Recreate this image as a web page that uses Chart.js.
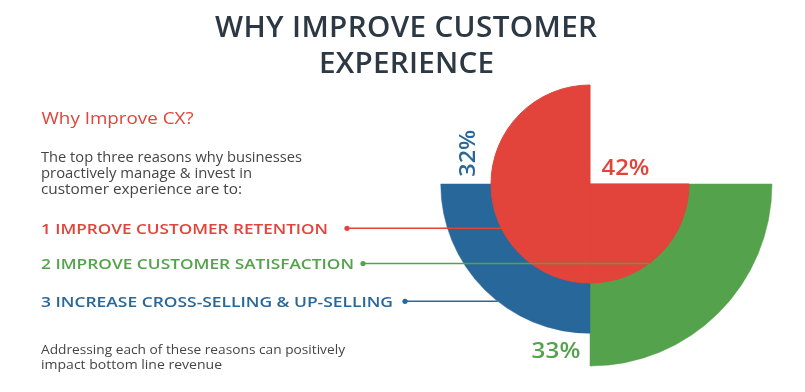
<!DOCTYPE html>
<html><head><meta charset="utf-8">
<script src="https://cdn.jsdelivr.net/npm/chart.js@4/dist/chart.umd.min.js"></script>
<style>html,body{margin:0;padding:0;background:#fff;overflow:hidden}#wrap{position:relative;width:805px;height:392px}canvas{display:block}</style>
</head><body><div id="wrap"><canvas id="c" width="805" height="392"></canvas></div>
<script>
// ---- data ----
const reasons = ['1 IMPROVE CUSTOMER RETENTION', '2 IMPROVE CUSTOMER SATISFACTION', '3 INCREASE CROSS-SELLING & UP-SELLING'];
const percentages = [42, 33, 32];               // retention, satisfaction, cross/up-selling
const quadrants = ['top-right', 'bottom-right', 'bottom-left', 'top-left'];
const retentionExtent = [0, 54.4, 54.4, 54.4];  // red wedge extent per quadrant (r scale 0-100)
const otherExtent = [0, 100, 82, 0];            // green (satisfaction) & blue (selling) wedges
const titleLines = ['WHY IMPROVE CUSTOMER', 'EXPERIENCE'];
const introLines = ['The top three reasons why businesses', 'proactively manage & invest in', 'customer experience are to:'];
const footerLines = ['Addressing each of these reasons can positively', 'impact bottom line revenue'];

const RED = '#e2433a', GREEN = '#54a24c', BLUE = '#28679a', DARK = '#2c3843', GRAY = '#454545';
const FONT = '"Open Sans", "Noto Sans", sans-serif';

function txt(ctx, str, x, y, target, font, color, align, maxScale) {
  ctx.save();
  ctx.font = font; ctx.fillStyle = color; ctx.textBaseline = 'alphabetic'; ctx.textAlign = 'left';
  const w = ctx.measureText(str).width;
  const n = str.length;
  const sx = Math.min(target / w, maxScale || 1.18);
  const rest = target - w * sx;
  const sp = n > 1 ? rest / (n - 1) / sx : 0;
  const left = align === 'center' ? x - target / 2 : x;
  ctx.translate(left, y);
  ctx.scale(sx, 1);
  if ('letterSpacing' in ctx) {
    ctx.letterSpacing = sp + 'px';
    ctx.fillText(str, 0, 0);
  } else {
    for (let i = 0; i < n; i++) ctx.fillText(str[i], ctx.measureText(str.slice(0, i)).width + i * sp, 0);
  }
  ctx.restore();
}

const decor = {
  id: 'decor',
  afterDatasetsDraw(chart) {
    const ctx = chart.ctx;
    const red = chart.getDatasetMeta(0).data[2];
    const blue = chart.getDatasetMeta(1).data[2];
    const cx = red.x, cy = red.y, rR = red.outerRadius, rB = blue.outerRadius;
    const lines = [
      {y: 228.3, x0: 347, color: RED, end: (dy) => cx - Math.sqrt(Math.max(rR * rR - dy * dy, 0))},
      {y: 263.5, x0: 363, color: GREEN, end: (dy) => cx + Math.sqrt(Math.max(rR * rR - dy * dy, 0))},
      {y: 301.3, x0: 405, color: BLUE, end: (dy) => cx - Math.sqrt(Math.max(rB * rB - dy * dy, 0))}
    ];
    ctx.save();
    lines.forEach(l => {
      ctx.strokeStyle = l.color; ctx.fillStyle = l.color; ctx.lineWidth = 1.5;
      ctx.beginPath(); ctx.moveTo(l.x0, l.y); ctx.lineTo(l.end(l.y - cy), l.y); ctx.stroke();
      ctx.beginPath(); ctx.arc(l.x0, l.y, 2.6, 0, Math.PI * 2); ctx.fill();
    });
    ctx.restore();
  },
  afterDraw(chart) {
    const ctx = chart.ctx;
    txt(ctx, titleLines[0], 406, 36.7, 382, '600 28px ' + FONT, DARK, 'center', 1.06);
    txt(ctx, titleLines[1], 406.5, 73.3, 175, '600 28px ' + FONT, DARK, 'center', 1.06);
    txt(ctx, 'Why Improve CX?', 41.5, 124, 152, '400 16px ' + FONT, RED, 'left', 1.2);
    const introW = [261, 211, 201];
    introLines.forEach((s, i) => txt(ctx, s, 41, 161.5 + i * 16, introW[i], '400 14px ' + FONT, GRAY, 'left', 1.15));
    const reasonW = [287, 313, 352], reasonY = [234, 269.3, 307.3], reasonC = [RED, GREEN, BLUE];
    reasons.forEach((s, i) => txt(ctx, s, 41, reasonY[i], reasonW[i], '600 15px ' + FONT, reasonC[i], 'left', 1.18));
    const footW = [304, 181];
    footerLines.forEach((s, i) => txt(ctx, s, 41, 354.3 + i * 15, footW[i], '400 13px ' + FONT, GRAY, 'left', 1.15));
    txt(ctx, percentages[0] + '%', 601.5, 175, 48, '600 22px ' + FONT, RED, 'left', 1.1);
    txt(ctx, percentages[1] + '%', 531.5, 357.7, 49, '600 22px ' + FONT, GREEN, 'left', 1.1);
    ctx.save();
    ctx.translate(475, 176.7); ctx.rotate(-Math.PI / 2);
    txt(ctx, percentages[2] + '%', 0, 0, 47, '600 22px ' + FONT, BLUE, 'left', 1.1);
    ctx.restore();
  }
};

new Chart(document.getElementById('c'), {
  type: 'polarArea',
  data: {
    labels: quadrants,
    datasets: [
      {label: 'Retention', data: retentionExtent, backgroundColor: RED, borderColor: RED, borderWidth: [0, 1, 1, 1]},
      {label: 'Satisfaction / Selling', data: otherExtent, backgroundColor: ['#fff', GREEN, BLUE, '#fff'], borderColor: ['#fff', GREEN, BLUE, '#fff'], borderWidth: [0, 0.5, 0.5, 0]}
    ]
  },
  options: {
    responsive: false, animation: false, devicePixelRatio: 1,
    layout: {padding: {left: 408, right: 33, top: 2, bottom: 26}},
    scales: {r: {min: 0, max: 100, display: false}},
    plugins: {legend: {display: false}, tooltip: {enabled: false}}
  },
  plugins: [decor]
});
</script></body></html>
